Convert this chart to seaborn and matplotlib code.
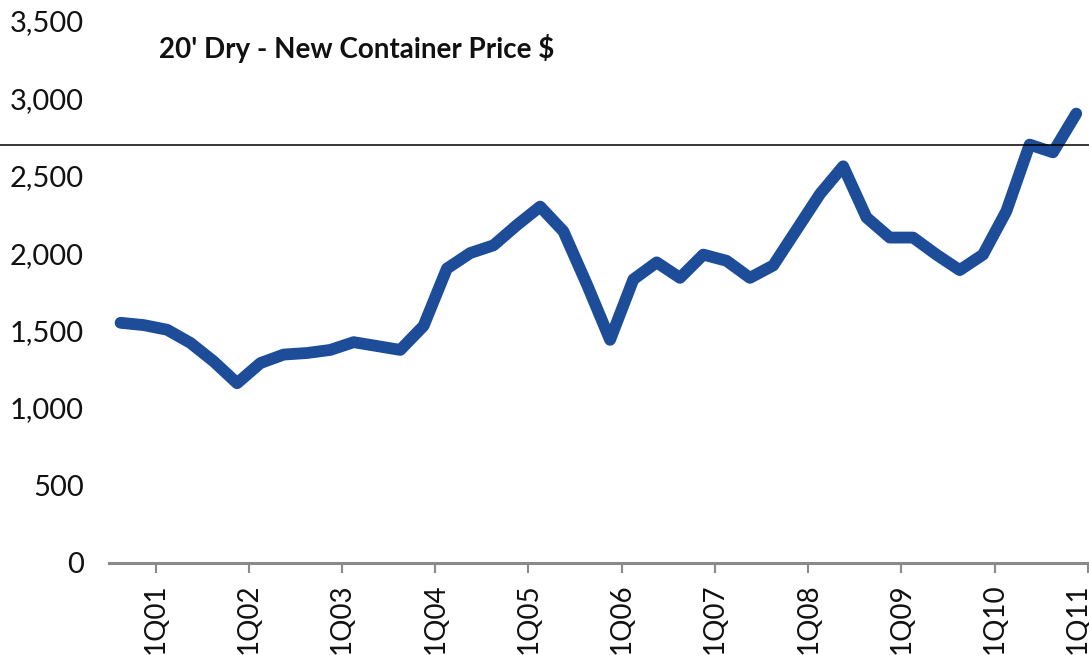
import numpy as np
import pandas as pd
import matplotlib
matplotlib.use("Agg")
import matplotlib.pyplot as plt
import matplotlib.transforms as mtransforms
import seaborn as sns

# quarterly new container price, 3Q00 .. 4Q10
quarters = [f"{q}Q{y:02d}" for y in range(0, 11) for q in range(1, 5)][2:]
prices = [1550, 1535, 1505, 1420, 1300, 1160,
          1290, 1345, 1355, 1375, 1425, 1400, 1375, 1530,
          1900, 2000, 2050, 2180, 2300, 2140, 1800, 1440,
          1830, 1940, 1840, 1990, 1950, 1840, 1920, 2150,
          2380, 2560, 2230, 2100, 2100, 1990, 1890, 1990,
          2270, 2700, 2650, 2900]
tick_labels = ["1Q01", "1Q02", "1Q03", "1Q04", "1Q05", "1Q06",
               "1Q07", "1Q08", "1Q09", "1Q10", "1Q11"]
y_ticks = [0, 500, 1000, 1500, 2000, 2500, 3000, 3500]
ref_level = 2700
title = "20' Dry - New Container Price $"

df = pd.DataFrame({"Quarter": quarters, "Price": prices})
# points sit in the middle of each quarter, ticks on the boundaries
df["pos"] = np.arange(len(df)) + 0.5

sns.set_theme(style="white")
plt.rcParams["font.family"] = ["Lato", "DejaVu Sans"]

fig = plt.figure(figsize=(10.89, 6.55), dpi=100)
ax = fig.add_axes([0.100, 0.1405, 0.899, 0.828])

sns.lineplot(data=df, x="pos", y="Price", ax=ax, color="#1d4c98",
             linewidth=8.5, solid_capstyle="round", solid_joinstyle="round")

tick_pos = [df["pos"][df["Quarter"] == t].iloc[0] - 0.5 if t in set(quarters)
            else len(df) for t in tick_labels]
ax.set_xticks(tick_pos)
ax.set_xticklabels(tick_labels, rotation=90, fontsize=20)
ax.set_xlim(0, len(df))
ax.set_ylim(0, 3500)
ax.set_yticks(y_ticks)
ax.set_yticklabels([f"{v:,}" for v in y_ticks], fontsize=21)
ax.set_xlabel("")
ax.set_ylabel("")

for s in ["left", "top", "right"]:
    ax.spines[s].set_visible(False)
ax.spines["bottom"].set_color("#8a8a8a")
ax.spines["bottom"].set_linewidth(2.2)
ax.tick_params(axis="x", bottom=True, length=7, width=1.5, color="#8a8a8a",
               pad=8, labelcolor="#111111")
ax.tick_params(axis="y", left=False, pad=12, labelcolor="#111111")

# last label sits at the right edge, nudge it in so it stays on the canvas
last = ax.get_xticklabels()[-1]
last.set_transform(last.get_transform() +
                   mtransforms.ScaledTranslation(-0.1, 0, fig.dpi_scale_trans))

ax.text(0.051, 0.949, title, transform=ax.transAxes, fontsize=20,
        fontweight="bold", ha="left", va="center", color="#111111")

ax.axhline(ref_level, xmin=-0.12, xmax=1.01, color="black", linewidth=1.1,
           clip_on=False, zorder=5)

fig.savefig("out.png", dpi=100)
